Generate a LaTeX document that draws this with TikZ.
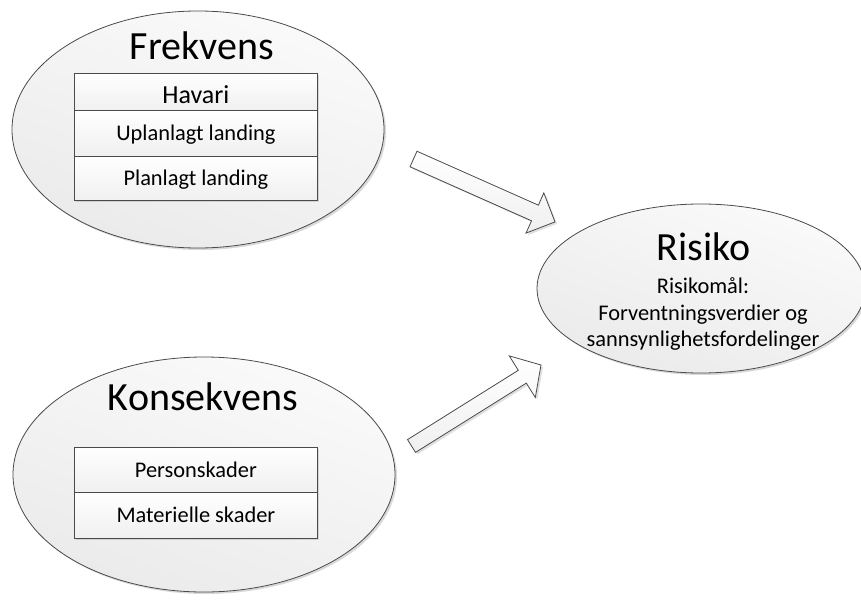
\documentclass[tikz,border=0pt]{standalone}
\usepackage{fontspec}
\setmainfont{Carlito}
\usetikzlibrary{shapes.geometric,shadows}
\definecolor{edge}{HTML}{4A4A4A}
\tikzset{
  oval/.style={ellipse, draw=edge, line width=0.8pt, inner sep=0pt,
    top color=black!2, bottom color=black!8, shading angle=-20,
    drop shadow={shadow xshift=2pt, shadow yshift=-2pt, opacity=0.15, fill=black}},
  rowbox/.style={rectangle, draw=edge, line width=0.8pt, anchor=north west,
    minimum width=243pt, inner xsep=0pt, inner ysep=0pt,
    top color=white, bottom color=black!6,
    drop shadow={shadow xshift=2pt, shadow yshift=-2pt, opacity=0.12, fill=black}},
  blockarrow/.style={draw=edge, line width=0.8pt, line join=miter,
    top color=white, bottom color=black!6,
    drop shadow={shadow xshift=2pt, shadow yshift=-2pt, opacity=0.12, fill=black}},
  bigtext/.style={anchor=base, inner sep=0pt, font=\fontsize{40}{48}\selectfont},
  smalltext/.style={font=\fontsize{22.4}{27}\selectfont},
  havtext/.style={font=\fontsize{26}{30}\selectfont},
}
\begin{document}
\begin{tikzpicture}[x=1pt,y=-1pt]
\useasboundingbox (0,0) rectangle (861,599);
% ellipses
\node[oval, minimum width=372pt, minimum height=237pt] (frek) at (198,129.5) {};
\node[oval, minimum width=382pt, minimum height=235pt] (kons) at (204,474.5) {};
\node[oval, minimum width=328pt, minimum height=169pt] (risk) at (701,288.5) {};
% titles
\node[bigtext] (frekt) at (201.7,60) {Frekvens};
\node[bigtext] (konst) at (203,410) {Konsekvens};
\node[bigtext] (riskt) at (703.5,260) {Risiko};
% Frekvens table
\node[rowbox, havtext, text height=29.7pt, text depth=7.3pt] (havari) at (74,73) {Havari};
\node[rowbox, smalltext, text height=30pt, text depth=16pt] (uplan) at (74,110) {Uplanlagt landing};
\node[rowbox, smalltext, text height=29pt, text depth=15pt] (plan) at (74,156) {Planlagt landing};
% Konsekvens table
\node[rowbox, smalltext, text height=29.7pt, text depth=15.3pt] (person) at (74,447) {Personskader};
\node[rowbox, smalltext, text height=29.7pt, text depth=16.3pt] (mat) at (74,492) {Materielle skader};
% Risiko text
\node[smalltext, anchor=base, inner sep=0pt] (rm1) at (703,293.3) {Risikomål:};
\node[smalltext, anchor=base, inner sep=0pt] (rm2) at (703,320.7) {Forventningsverdier og};
\node[smalltext, anchor=base, inner sep=0pt] (rm3) at (703,346.7) {sannsynlighetsfordelinger};
% block arrows
\coordinate (a1tail) at (413.5,159);
\coordinate (a1tip) at (555,221.9);
\path[blockarrow] (410.05,166.76) -- (416.95,151.24) -- (538.4,205.2) -- (543.8,192.9)
  -- (a1tip) -- (526.0,233.1) -- (531.5,220.8) -- cycle;
\coordinate (a2tail) at (411.5,446);
\coordinate (a2tip) at (541,365);
\path[blockarrow] (407.5,439.6) -- (518.3,370.3) -- (509.3,355.9) -- (a2tip)
  -- (535.3,397.5) -- (526.3,383.1) -- (415.5,452.4) -- cycle;
\end{tikzpicture}
\end{document}
